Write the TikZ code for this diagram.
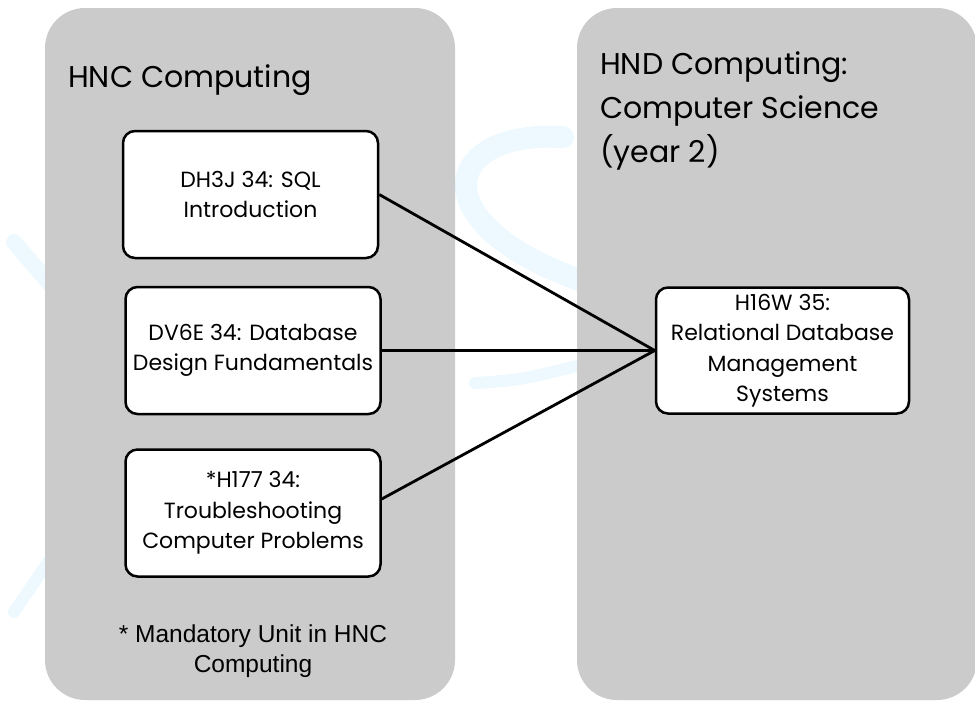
\documentclass[tikz,border=0pt]{standalone}
\usepackage{fontspec}
\usepackage{xcolor}
\usepackage{tikz}
\setmainfont{Poppins}
\newfontfamily\notefont{Liberation Sans}
\definecolor{panelgray}{RGB}{203,203,203}
\definecolor{wmblue}{RGB}{237,249,254}

\begin{document}
\begin{tikzpicture}[x=1pt, y=-1pt, node distance=156pt,
    panel/.style={fill=panelgray, rounded corners=40pt, inner sep=0pt},
    unit/.style={draw, line width=2.5pt, fill=white, rounded corners=12pt, minimum width=255pt, minimum height=127pt, align=center, inner sep=2pt, font=\fontsize{22}{30.5}\selectfont},
    link/.style={line width=2.8pt},
    watermark/.style={wmblue, line cap=round}]
    \useasboundingbox (0,0) rectangle (975,702);

    % faint logo behind the panels
    \draw[watermark, line width=22pt] (563,137) .. controls (440,130) and (420,225) .. (585,282);
    \draw[watermark, line width=12pt] (475,383) .. controls (520,380) .. (585,364);
    \draw[watermark, line width=16pt] (14,242) -- (55,290);
    \draw[watermark, line width=12pt] (14,612) -- (55,552);

    \node (hnc) [panel, minimum width=410pt, minimum height=692pt] at (250,354) {};
    \node (hnd) [panel, minimum width=400pt, minimum height=692pt] at (777,354) {};

    \node (hnctitle) [anchor=base west, inner sep=0pt, font=\fontsize{30}{44}\selectfont] at (68,87) {HNC Computing};
    \node (hndtitle) [anchor=north west, inner sep=0pt, align=left, font=\fontsize{30}{44}\selectfont] at (600,51) {HND Computing:\\Computer Science\\(year 2)};

    \node (sql) [unit] at (250.5,194.5) {DH3J 34: SQL\\Introduction};
    \node (design) [unit, below of=sql, xshift=2.5pt] {DV6E 34: Database\\Design Fundamentals};
    \node (trouble) [unit, below of=design, node distance=162.5pt] {*H177 34:\\Troubleshooting\\Computer Problems};
    \node (rdbms) [unit, right of=design, node distance=529.5pt, minimum width=253pt, minimum height=126pt] {H16W 35:\\Relational Database\\Management\\Systems};

    \node (note) [anchor=north, inner sep=0pt, align=center, font=\notefont\fontsize{24.5}{30}\selectfont] at (253,625) {* Mandatory Unit in HNC\\Computing};

    \draw[link] (sql.east) -- (rdbms.west);
    \draw[link] (design) -- (rdbms);
    \draw[link] ([yshift=14pt]trouble.east) -- (rdbms.west);
\end{tikzpicture}
\end{document}
